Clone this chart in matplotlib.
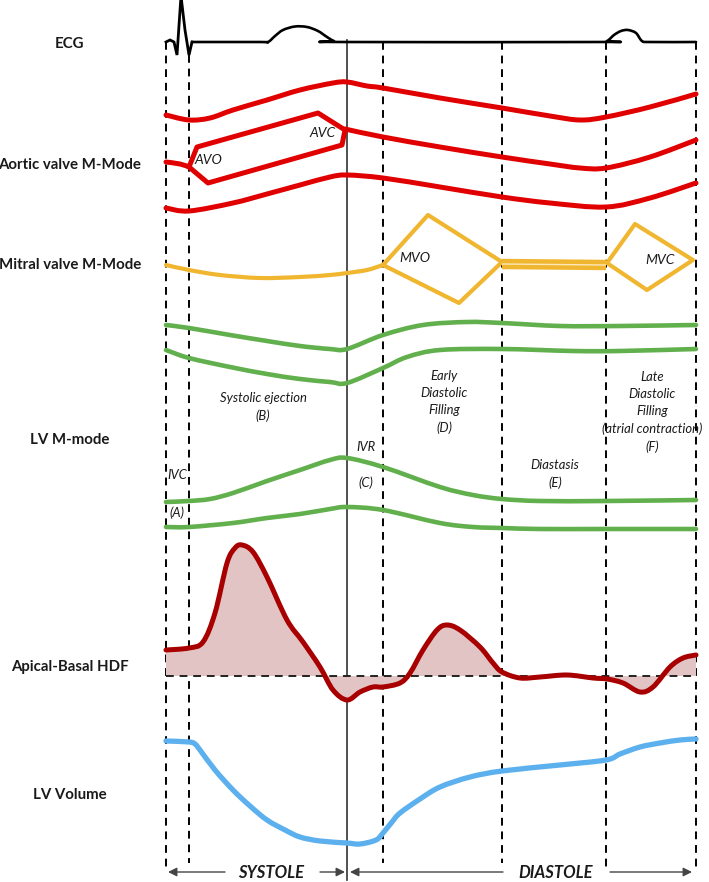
import matplotlib
matplotlib.use("Agg")
import numpy as np
import matplotlib.pyplot as plt
from matplotlib.path import Path
from matplotlib.patches import PathPatch

plt.rcParams['font.family'] = ['Lato', 'DejaVu Sans']

# ------------------------------
# Traces (x, y in picture units, y grows downward)
# ------------------------------
qrs_x = [166, 170, 174, 177, 181, 185, 189, 192]
qrs_y = [42, 40, 42, 55, -4, 30, 55, 42]
ecg_x = [192, 260, 268, 275, 283, 295, 307, 318, 327, 334, 342, 598, 607, 614, 621, 628, 636, 642, 650, 696]
ecg_y = [42, 42, 42, 36, 30, 26.5, 27, 31, 37, 41, 42, 42, 41, 35, 31, 30, 33, 41, 42, 42]

av_top_x = [166, 189, 210, 233, 267, 300, 333, 347, 367, 383, 440, 502, 550, 580, 606, 650, 696]
av_top_y = [115, 120, 118, 110, 100, 90, 83, 82, 86, 88, 98, 108, 116, 120, 117, 107, 94]

av_stub_x = [166, 180, 189]
av_stub_y = [162, 164, 167]

av_box_x = [189, 197, 318, 345, 342, 208, 189]
av_box_y = [167, 147, 113, 130, 145, 183, 167]

av_mid_x = [345, 383, 440, 502, 550, 580, 606, 650, 696]
av_mid_y = [129, 137, 147, 157, 164, 168, 168, 157, 140]

av_bot_x = [166, 189, 233, 267, 300, 330, 347, 383, 440, 502, 550, 606, 650, 696]
av_bot_y = [208, 211, 203, 194, 185, 177, 175, 178, 187, 197, 203, 207, 198, 183]

mv_x = [166, 189, 220, 260, 300, 330, 347, 367, 383]
mv_y = [265, 270, 275, 278, 277, 275, 273, 270, 265]
mvo_x = [383, 428, 502, 459, 383]
mvo_y = [265, 215, 262, 303, 265]
mv_band_x = [502, 606]
mv_band_y = [264, 265]
mvc_x = [607, 635, 693, 647, 607]
mvc_y = [263, 224, 260, 290, 263]

lv1_x = [166, 189, 230, 267, 300, 330, 347, 383, 423, 467, 502, 560, 620, 696]
lv1_y = [325, 328, 335, 341, 346, 349, 349, 335, 325, 322, 323, 326, 326, 325]
lv2_x = [166, 189, 230, 267, 300, 330, 347, 383, 407, 440, 502, 573, 620, 696]
lv2_y = [350, 358, 367, 374, 379, 382, 383, 368, 357, 350, 349, 351, 351, 349]
lv3_x = [166, 189, 210, 233, 267, 300, 330, 347, 383, 440, 473, 502, 540, 606, 696]
lv3_y = [502, 501, 499, 493, 481, 470, 460, 458, 467, 487, 495, 499, 501, 501, 500]
lv4_x = [166, 189, 233, 267, 300, 330, 347, 383, 440, 473, 502, 540, 606, 696]
lv4_y = [527, 527, 523, 518, 514, 509, 507, 510, 523, 527, 528, 529, 529, 529]

hdf_x = [166, 189, 203, 215, 227, 235, 242, 253, 267, 287, 303, 320, 333, 347, 360, 373, 383, 400,
         410, 423, 437, 447, 460, 480, 493, 502, 520, 540, 567, 593, 607, 623, 640, 653, 670, 683, 696]
hdf_y = [650, 648, 642, 613, 563, 548, 545, 552, 577, 620, 642, 667, 690, 700, 692, 687, 687, 683,
         673, 650, 630, 625, 630, 647, 663, 672, 678, 677, 675, 678, 679, 683, 692, 687, 667, 658, 655]
hdf_base = 676

vol_x = [166, 189, 195, 200, 215, 233, 250, 267, 285, 300, 320, 347, 360, 376, 383, 392, 400, 420, 440,
         470, 502, 560, 606, 620, 640, 660, 680, 696]
vol_y = [741, 742, 744, 750, 770, 790, 806, 820, 830, 837, 841, 843, 844, 840, 833, 822, 813, 799, 787,
         777, 771, 765, 760, 754, 747, 743, 740, 739]

# event markers
dashed_x = [166, 189, 383, 502, 606, 696]
dashed_top = [42, 55, 42, 42, 42, 42]
dashed_bot = [870, 863, 863, 863, 870, 872]
solid_x = 347

row_labels = ["ECG", "Aortic valve M-Mode", "Mitral valve M-Mode", "LV M-mode",
              "Apical-Basal HDF", "LV Volume"]
row_label_y = [44, 165, 265, 440, 667, 795]

valve_texts = ["AVO", "AVC", "MVO", "MVC"]
valve_x = [208, 323, 415, 660]
valve_y = [160, 133, 258, 260]

phase_texts = ["Systolic ejection\n(B)", "IVC", "(A)", "IVR", "(C)",
               "Early\nDiastolic\nFilling\n(D)", "Diastasis\n(E)",
               "Late\nDiastolic\nFilling\n(atrial contraction)\n(F)"]
phase_x = [263, 177, 177, 366, 366, 444, 555, 652]
phase_y = [407, 475, 513, 447, 483, 402, 474, 412]

# colours
RED = "#e00000"
GOLD = "#f0b630"
GREEN = "#62b04d"
DARKRED = "#a80000"
PINK = "#e3c4c4"
BLUE = "#5db0ee"
INK = "#1a1a1a"


def smooth_codes(xs, ys):
    """Cubic Bezier segments through every point (Catmull-Rom style handles)."""
    p = np.column_stack([xs, ys]).astype(float)
    n = len(p)
    verts, codes = [], []
    for i in range(n - 1):
        p0, p1, p2, p3 = p[max(i - 1, 0)], p[i], p[i + 1], p[min(i + 2, n - 1)]
        verts += [p1 + (p2 - p0) / 6, p2 - (p3 - p1) / 6, p2]
        codes += [Path.CURVE4] * 3
    return verts, codes


def smooth_line(ax, xs, ys, **style):
    verts, codes = smooth_codes(xs, ys)
    path = Path([(xs[0], ys[0])] + verts, [Path.MOVETO] + codes)
    ax.add_patch(PathPatch(path, fill=False, capstyle="round", joinstyle="round", **style))


fig = plt.figure(figsize=(7.09, 8.82), dpi=100)
ax = fig.add_axes([0, 0, 1, 1])
ax.set_xlim(0, 709)
ax.set_ylim(882, 0)
ax.axis("off")

kw = dict(solid_capstyle="round", solid_joinstyle="round")
dash = (0, (4, 3))

# guides
for x, t, b in zip(dashed_x, dashed_top, dashed_bot):
    ax.plot([x, x], [t, b], color="black", lw=1.4, ls=dash, zorder=1)
ax.plot([solid_x, solid_x], [40, 880], color="#333333", lw=1.2, zorder=1)

# ECG
ax.plot(qrs_x, qrs_y, color="black", lw=2.0, zorder=3, solid_joinstyle="miter")
smooth_line(ax, ecg_x, ecg_y, edgecolor="black", lw=1.9, zorder=3)

# aortic valve
for xs, ys in [(av_top_x, av_top_y), (av_stub_x, av_stub_y), (av_mid_x, av_mid_y),
               (av_bot_x, av_bot_y)]:
    smooth_line(ax, xs, ys, edgecolor=RED, lw=3.6, zorder=3)
ax.plot(av_box_x, av_box_y, color=RED, lw=3.6, zorder=3, **kw)

# mitral valve
smooth_line(ax, mv_x, mv_y, edgecolor=GOLD, lw=3.0, zorder=3)
for xs, ys in [(mvo_x, mvo_y), (mvc_x, mvc_y)]:
    ax.plot(xs, ys, color=GOLD, lw=3.0, zorder=3, **kw)
ax.plot(mv_band_x, mv_band_y, color=GOLD, lw=7.5, zorder=3, solid_capstyle="butt")
ax.plot(mv_band_x, mv_band_y, color="#fbe7b8", lw=1.0, zorder=4, solid_capstyle="butt")

# LV M-mode
for xs, ys in [(lv1_x, lv1_y), (lv2_x, lv2_y), (lv3_x, lv3_y), (lv4_x, lv4_y)]:
    smooth_line(ax, xs, ys, edgecolor=GREEN, lw=3.3, zorder=3)

# apical-basal HDF: shaded area between curve and baseline
verts, codes = smooth_codes(hdf_x, hdf_y)
fill_path = Path([(hdf_x[0], hdf_base), (hdf_x[0], hdf_y[0])] + verts +
                 [(hdf_x[-1], hdf_base), (hdf_x[0], hdf_base)],
                 [Path.MOVETO, Path.LINETO] + codes + [Path.LINETO, Path.CLOSEPOLY])
ax.add_patch(PathPatch(fill_path, facecolor=PINK, edgecolor="none", zorder=2))
ax.plot([166, 696], [hdf_base, hdf_base], color="#222222", lw=1.4, ls=dash, zorder=2)
smooth_line(ax, hdf_x, hdf_y, edgecolor=DARKRED, lw=3.6, zorder=3)

# LV volume
smooth_line(ax, vol_x, vol_y, edgecolor=BLUE, lw=3.8, zorder=3)

# row labels
for lab, y in zip(row_labels, row_label_y):
    ax.text(70, y, lab, ha="center", va="center", fontsize=10.8, fontweight="bold", color=INK)

# valve annotations
for t, x, y in zip(valve_texts, valve_x, valve_y):
    ax.text(x, y, t, ha="center", va="center", fontsize=10, style="italic", color=INK, zorder=5)

# phase annotations
for t, x, y in zip(phase_texts, phase_x, phase_y):
    ax.text(x, y, t, ha="center", va="center", fontsize=9.4, style="italic",
            color=INK, linespacing=1.5, zorder=5)

# systole / diastole arrows
arr = dict(arrowstyle="-|>", color="#444444", lw=1.0, mutation_scale=13, shrinkA=0, shrinkB=0)
ax.annotate("", xy=(168, 872), xytext=(225, 872), arrowprops=arr)
ax.annotate("", xy=(345, 872), xytext=(320, 872), arrowprops=arr)
ax.annotate("", xy=(350, 872), xytext=(503, 872), arrowprops=arr)
ax.annotate("", xy=(692, 872), xytext=(610, 872), arrowprops=arr)
ax.text(271, 873, "SYSTOLE", ha="center", va="center", fontsize=12, fontweight="bold",
        style="italic", color=INK)
ax.text(556, 873, "DIASTOLE", ha="center", va="center", fontsize=12, fontweight="bold",
        style="italic", color=INK)

fig.savefig("out.png", dpi=100)
